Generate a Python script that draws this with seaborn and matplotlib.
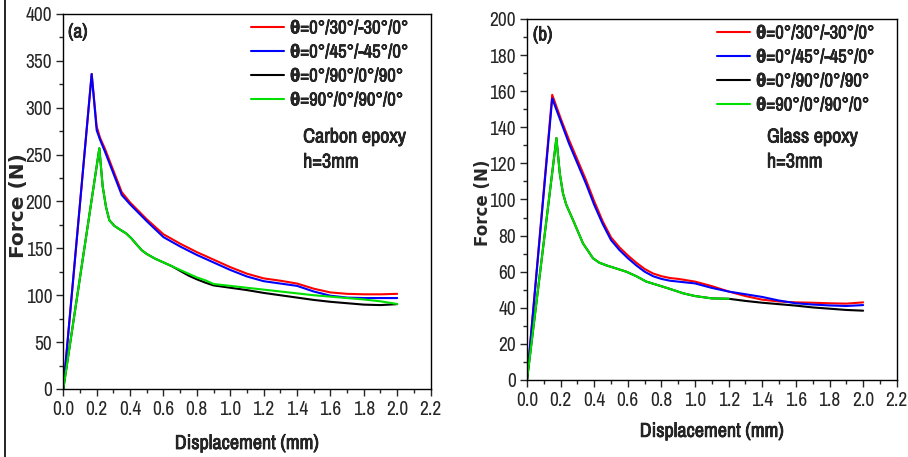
import numpy as np
import pandas as pd
import seaborn as sns
import matplotlib.pyplot as plt
import matplotlib.patheffects as pe
from matplotlib import font_manager
from matplotlib.lines import Line2D
from matplotlib.ticker import MultipleLocator

labels = ['θ=0°/30°/-30°/0°', 'θ=0°/45°/-45°/0°', 'θ=0°/90°/0°/90°', 'θ=90°/0°/90°/0°']
colors = ['#ff0000', '#0000ff', '#000000', '#00e000']

# (a) carbon epoxy
a_x_rb = [0, 0.17, 0.2, 0.22, 0.25, 0.3, 0.35, 0.4, 0.5, 0.6, 0.7, 0.8, 0.9, 1.0,
          1.1, 1.2, 1.3, 1.4, 1.5, 1.6, 1.7, 1.8, 1.9, 2.0]
a_red = [0, 336, 280, 268, 256, 233, 210, 199, 181, 165, 155, 146, 138, 130,
         123, 118, 115.5, 112.5, 107, 103, 101.5, 101, 101, 101.5]
a_blue = [0, 336, 276, 266, 253, 230, 207, 197, 179, 162, 152, 143, 135, 127,
          120, 115, 112.5, 110, 104, 99.5, 97.5, 97, 97, 97]
a_x_bg = [0, 0.216, 0.236, 0.256, 0.276, 0.306, 0.34, 0.376, 0.406, 0.44, 0.47, 0.5,
          0.55, 0.6, 0.65, 0.7, 0.75, 0.8, 0.85, 0.9, 1.0, 1.1, 1.2, 1.3, 1.4, 1.5,
          1.6, 1.7, 1.8, 1.9, 2.0]
a_green = [0, 256.7, 216, 194, 180, 174, 170, 166, 161, 154, 148, 144,
           139, 135, 131, 127, 123, 119, 116, 112, 110, 108, 106, 104, 102, 100,
           98.5, 97, 95.5, 93.5, 90.7]
a_black = [0, 256.7, 216, 194, 180, 174, 170, 166, 161, 154, 148, 144,
           139, 135, 131, 126, 121, 117, 113.5, 110.5, 108, 105.5, 102.5, 100, 97.5, 95,
           93, 91.5, 90, 89.5, 90.5]

# (b) glass epoxy
b_x_rb = [0, 0.15, 0.2, 0.25, 0.3, 0.35, 0.4, 0.45, 0.5, 0.55, 0.6, 0.65, 0.7, 0.75,
          0.8, 0.85, 0.9, 1.0, 1.1, 1.2, 1.3, 1.4, 1.5, 1.6, 1.7, 1.8, 1.9, 2.0]
b_red = [0, 158, 145, 133, 122, 111, 99, 88, 79, 73.5, 69, 65, 61.5, 59,
         57.5, 56.5, 56, 54.5, 52, 49, 46.5, 44.5, 43.5, 43, 42.8, 42.5, 42.3, 43]
b_blue = [0, 156, 143.5, 131, 120, 109, 97, 86.5, 77.5, 72, 67.5, 63.5, 60, 57.5,
          56, 55, 54.5, 53.5, 51, 49, 47.5, 46, 44, 42.5, 41.8, 41.3, 41, 41.5]
b_x_green = [0, 0.175, 0.195, 0.214, 0.234, 0.274, 0.333, 0.393, 0.43, 0.472, 0.53,
             0.591, 0.65, 0.71, 0.78, 0.849, 0.93, 1.0, 1.1, 1.2]
b_green = [0, 134, 114.5, 103.4, 97, 88.6, 75.7, 67.4, 65, 63.5, 61.8,
           60, 57.5, 54.5, 52.5, 50.5, 48, 46.5, 45.2, 45]
b_x_black = b_x_green + [1.3, 1.4, 1.5, 1.6, 1.7, 1.8, 1.9, 2.0]
b_black = b_green + [43.8, 42.8, 42, 41.2, 40.2, 39.5, 38.8, 38.4]

sns.set_style("ticks")
have = {f.name for f in font_manager.fontManager.ttflist}
if 'Archivo Narrow' in have:
    narrow = ['Archivo Narrow', 'Liberation Sans', 'DejaVu Sans']
    k = 1.0
    # narrow face has no bold weight here, thicken it with a stroke
    fx = [pe.withStroke(linewidth=0.5, foreground='black')]
else:
    narrow = ['Liberation Sans', 'DejaVu Sans']
    k = 0.82
    fx = []
plt.rcParams['font.family'] = narrow
plt.rcParams['axes.linewidth'] = 1.0

fig = plt.figure(figsize=(9.08, 4.57), dpi=100)
ax_a = fig.add_axes([0.0697, 0.1488, 0.4045, 0.8206])
ax_b = fig.add_axes([0.5804, 0.1685, 0.4072, 0.790])


def build(xs, ys):
    frames = []
    for lab, x, y in zip(labels, xs, ys):
        frames.append(pd.DataFrame({'d': x, 'f': y, 'series': lab}))
    return pd.concat(frames, ignore_index=True)


panels = [
    (ax_a, build([a_x_rb, a_x_rb, a_x_bg, a_x_bg], [a_red, a_blue, a_black, a_green]),
     400, 50, 25, '(a)', 'Carbon epoxy', 14.5, -0.096, -0.12, (0.013, 0.952), (0.653, 0.672, 0.605)),
    (ax_b, build([b_x_rb, b_x_rb, b_x_black, b_x_green], [b_red, b_blue, b_black, b_green]),
     200, 20, 10, '(b)', 'Glass epoxy', 12, -0.095, -0.116, (0.016, 0.956), (0.649, 0.673, 0.604)),
]

for ax, df, ymax, ymaj, ymin, tag, mat, ylab_size, ylx, xly, tagpos, matpos in panels:
    sns.lineplot(data=df, x='d', y='f', hue='series', hue_order=labels,
                 palette=colors, sort=False, estimator=None, lw=1.5, ax=ax, legend=False)
    ax.set_xlim(0, 2.2)
    ax.set_ylim(0, ymax)
    ax.xaxis.set_major_locator(MultipleLocator(0.2))
    ax.xaxis.set_minor_locator(MultipleLocator(0.1))
    ax.yaxis.set_major_locator(MultipleLocator(ymaj))
    ax.yaxis.set_minor_locator(MultipleLocator(ymin))
    ax.tick_params(which='major', direction='out', length=5, width=1, labelsize=14 * k, pad=3)
    ax.tick_params(which='minor', direction='out', length=3, width=1)
    ax.xaxis.set_major_formatter(plt.FuncFormatter(lambda v, p: f"{v:.1f}"))
    for s in ax.spines.values():
        s.set_visible(True)
        s.set_color('black')
    ax.set_xlabel('Displacement (mm)', fontsize=14.5 * k, fontweight='bold', path_effects=fx)
    ax.xaxis.set_label_coords(0.5, xly)
    ax.set_ylabel('Force (N)', fontsize=ylab_size, fontweight='bold', family=['DejaVu Sans'])
    ax.yaxis.set_label_coords(ylx, 0.49)
    handles = [Line2D([], [], color=c, lw=1.5) for c in colors]
    leg = ax.legend(handles, labels, loc='upper right', bbox_to_anchor=(0.955, 0.998),
                    frameon=False, handlelength=1.8, handletextpad=0.3, labelspacing=0.42,
                    borderpad=0.3, borderaxespad=0,
                    prop={'family': narrow, 'weight': 'bold', 'size': 13.5 * k})
    for t in leg.get_texts():
        t.set_path_effects(fx)
    ax.text(tagpos[0], tagpos[1], tag, transform=ax.transAxes, fontsize=14 * k,
            fontweight='bold', va='center', ha='left', path_effects=fx)
    ax.text(matpos[0], matpos[1], mat, transform=ax.transAxes, fontsize=14.5 * k,
            fontweight='bold', va='center', ha='left', path_effects=fx)
    ax.text(matpos[0], matpos[2], 'h=3mm', transform=ax.transAxes, fontsize=14.5 * k,
            fontweight='bold', va='center', ha='left', path_effects=fx)

fig.add_artist(Line2D([5 / 908, 5 / 908], [0, 1], color='black', lw=1.2,
                      transform=fig.transFigure))

fig.savefig('out.png', dpi=100)
plt.close()
